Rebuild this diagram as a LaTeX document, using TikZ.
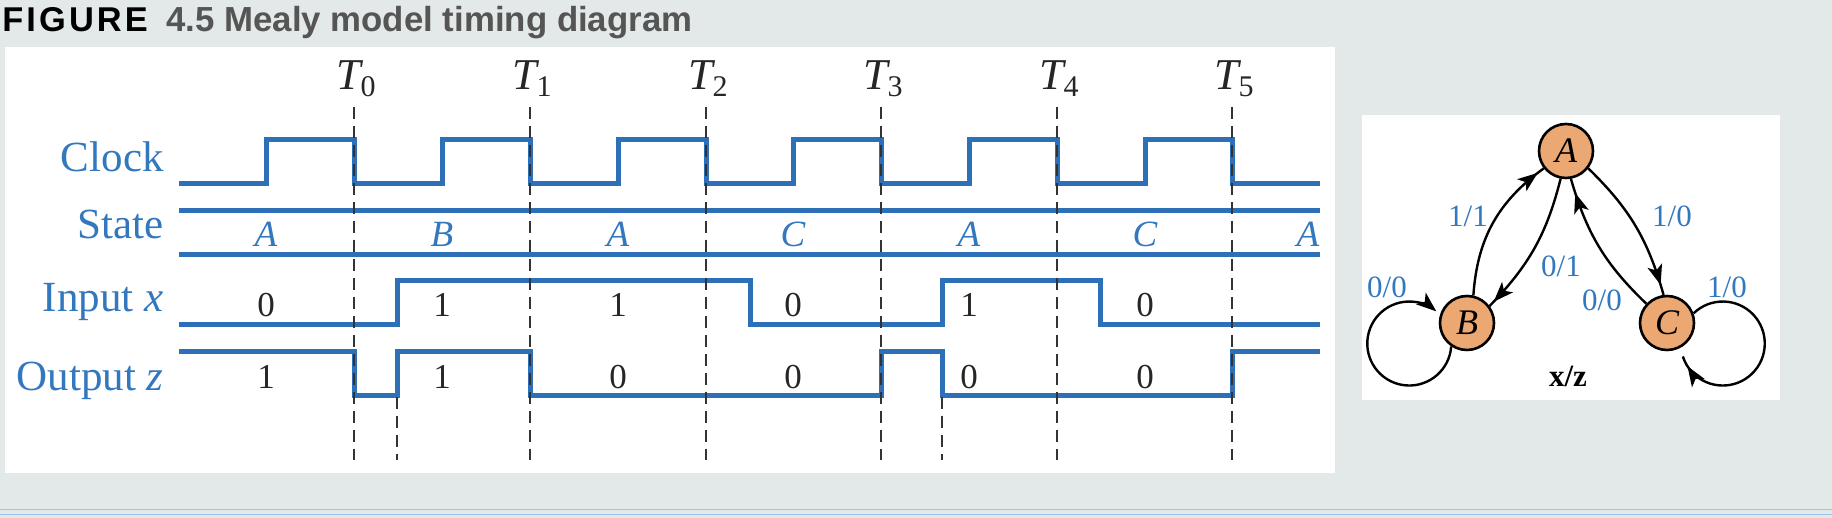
\documentclass[tikz,border=0pt]{standalone}
\usepackage{fontspec}
\setmainfont{Liberation Serif}
\newfontfamily\headfont{Liberation Sans}
\newfontfamily\headfontwide[LetterSpace=9]{Liberation Sans}
\usetikzlibrary{arrows.meta,decorations.markings}

\definecolor{panelgray}{RGB}{227,232,232}
\definecolor{sigblue}{RGB}{46,112,184}
\definecolor{txtblue}{RGB}{50,120,190}
\definecolor{stateorange}{RGB}{235,168,115}
\definecolor{titlegray}{RGB}{85,85,85}
\definecolor{ruleblue}{RGB}{160,195,235}

\newcommand{\tlab}[1]{\textit{T}\kern-1.5pt\raisebox{-3.8pt}{\fontsize{15}{15}\selectfont #1}}

\tikzset{
    wave/.style={sigblue, line width=2.5pt},
    instant/.style={black!80, line width=1pt, dash pattern=on 6pt off 3.5pt},
    rowlabel/.style={anchor=base east, inner sep=0pt, text=txtblue, font=\fontsize{21.5}{24}\selectfont},
    bit/.style={anchor=base, inner sep=0pt, text=black!85, font=\fontsize{17.5}{20}\selectfont},
    stname/.style={anchor=base, inner sep=0pt, text=txtblue, font=\fontsize{18.5}{20}\selectfont\itshape},
    tlabel/.style={anchor=base, inner sep=0pt, text=black!85, font=\fontsize{22}{26}\selectfont},
    fsm/.style={circle, draw, line width=1.3pt, fill=stateorange, minimum size=27pt, inner sep=0pt, font=\fontsize{18}{20}\selectfont\itshape},
    fsmline/.style={line width=1.2pt},
    tip at/.style={postaction={decorate}, decoration={markings, mark=at position #1 with {\arrow{Stealth[length=10pt,width=7.5pt,inset=2.5pt]}}}},
    io/.style={text=txtblue, inner sep=0pt, font=\fontsize{15.5}{18}\selectfont},
}

\begin{document}
\begin{tikzpicture}[x=0.5pt,y=0.5pt]
    \useasboundingbox (0,0) rectangle (1832,518);
    \fill[panelgray] (0,0) rectangle (1832,518);
    \fill[white] (5,45) rectangle (1335,471);
    \fill[white] (1362,118) rectangle (1780,403);
    \draw[ruleblue, line width=0.8pt] (0,8.5) -- (1832,8.5);
    \draw[ruleblue, line width=0.8pt] (0,3.5) -- (1832,3.5);

    \node[anchor=base west, inner sep=0pt, font=\headfontwide\bfseries\fontsize{17.2}{20}\selectfont] (fig) at (2,486.5) {FIGURE};
    \node[anchor=base west, inner sep=0pt, text=titlegray, font=\headfont\bfseries\fontsize{17.4}{20}\selectfont] (caption) at (166,486.5) {4.5 Mealy model timing diagram};

    \node[rowlabel] (clock) at (164,346) {Clock};
    \node[rowlabel] (state) at (164,279) {State};
    \node[rowlabel] (input) at (164,206) {Input \textit{x}};
    \node[rowlabel] (output) at (164,127) {Output \textit{z}};

    \draw[wave] (179,334) -- (266,334) -- (266,378) -- (354,378) -- (354,334) -- (442,334) -- (442,378) -- (530,378) -- (530,334)
        -- (618,334) -- (618,378) -- (706,378) -- (706,334) -- (793,334) -- (793,378) -- (881,378) -- (881,334)
        -- (969,334) -- (969,378) -- (1057,378) -- (1057,334) -- (1145,334) -- (1145,378) -- (1232,378) -- (1232,334) -- (1320,334);
    \draw[wave] (179,307) -- (1320,307);
    \draw[wave] (179,263) -- (1320,263);
    \draw[wave] (179,193) -- (397,193) -- (397,237) -- (750,237) -- (750,193) -- (942,193) -- (942,237) -- (1100,237) -- (1100,193) -- (1320,193);
    \draw[wave] (179,166) -- (354,166) -- (354,122) -- (397,122) -- (397,166) -- (530,166) -- (530,122) -- (881,122) -- (881,166)
        -- (942,166) -- (942,122) -- (1232,122) -- (1232,166) -- (1320,166);

    \draw[instant] (354,411) -- (354,58);
    \draw[instant] (530,411) -- (530,58);
    \draw[instant] (706,411) -- (706,58);
    \draw[instant] (881,411) -- (881,58);
    \draw[instant] (1057,411) -- (1057,58);
    \draw[instant] (1232,411) -- (1232,58);
    \draw[instant] (397,121) -- (397,58);
    \draw[instant] (942,121) -- (942,58);

    \node[tlabel] (t0) at (356,428.7) {\tlab{0}};
    \node[tlabel] (t1) at (532,428.7) {\tlab{1}};
    \node[tlabel] (t2) at (708,428.7) {\tlab{2}};
    \node[tlabel] (t3) at (883,428.7) {\tlab{3}};
    \node[tlabel] (t4) at (1059,428.7) {\tlab{4}};
    \node[tlabel] (t5) at (1234,428.7) {\tlab{5}};

    \node[stname] (s0) at (266,271) {A};
    \node[stname] (s1) at (442,271) {B};
    \node[stname] (s2) at (618,271) {A};
    \node[stname] (s3) at (793,271) {C};
    \node[stname] (s4) at (969,271) {A};
    \node[stname] (s5) at (1145,271) {C};
    \node[stname] (s6) at (1308,271) {A};

    \node[bit] (x0) at (266,201.5) {0};
    \node[bit] (x1) at (442,201.5) {1};
    \node[bit] (x2) at (618,201.5) {1};
    \node[bit] (x3) at (793,201.5) {0};
    \node[bit] (x4) at (969,201.5) {1};
    \node[bit] (x5) at (1145,201.5) {0};

    \node[bit] (z0) at (266,129.5) {1};
    \node[bit] (z1) at (442,129.5) {1};
    \node[bit] (z2) at (618,129.5) {0};
    \node[bit] (z3) at (793,129.5) {0};
    \node[bit] (z4) at (969,129.5) {0};
    \node[bit] (z5) at (1145,129.5) {0};

    \node[fsm] (A) at (1566,367) {A};
    \node[fsm] (B) at (1467,195) {B};
    \node[fsm] (C) at (1667,195) {C};

    \draw[fsmline, tip at=0.95] (B.77) to[bend left=25] (A.218);
    \draw[fsmline, tip at=0.96] (A.259) to[bend left=15] (B.37);
    \draw[fsmline, tip at=0.93] (A.-38) to[bend left=15] (C.97);
    \draw[fsmline, tip at=0.9] (C.137) to[bend left=15] (A.280);
    \draw[fsmline, -{Stealth[length=10pt,width=7.5pt,inset=2.5pt]}] (B.236) arc[start angle=-4, end angle=-310, radius=21pt];
    \draw[fsmline, tip at=0.95] (C.20) arc[start angle=134, end angle=-162, radius=21pt];

    \node[io] (l11) at (1468,302) {1/1};
    \node[io] (l10a) at (1672,302) {1/0};
    \node[io] (l01) at (1561,252) {0/1};
    \node[io] (l00a) at (1602,218) {0/0};
    \node[io] (l00b) at (1387,231) {0/0};
    \node[io] (l10b) at (1727,231) {1/0};
    \node[anchor=base, inner sep=0pt, font=\bfseries\fontsize{15.5}{18}\selectfont] (xz) at (1568,131) {x/z};
\end{tikzpicture}
\end{document}
